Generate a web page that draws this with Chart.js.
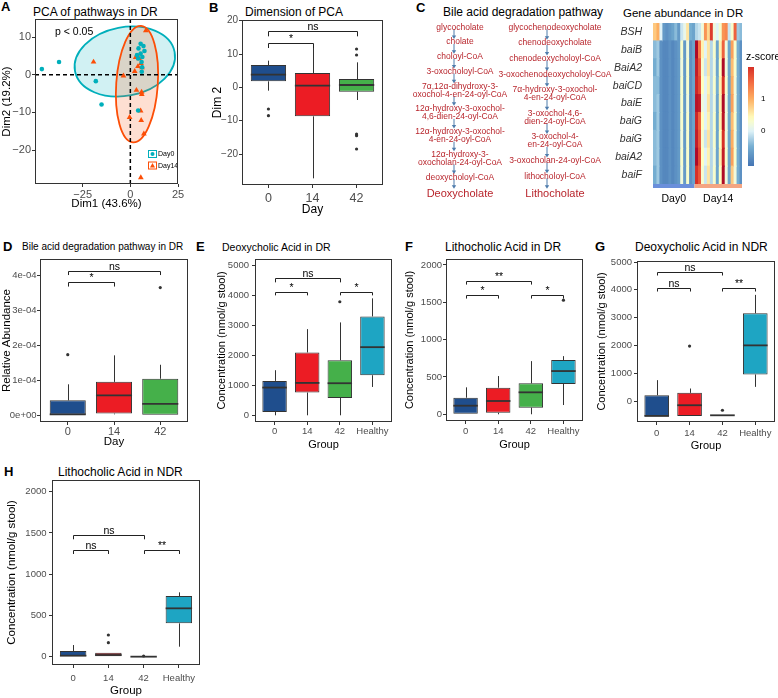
<!DOCTYPE html>
<html>
<head>
<meta charset="utf-8">
<script src="https://cdn.jsdelivr.net/npm/chart.js@4.4.1/dist/chart.umd.min.js"></script>
<style>
  body { margin: 0; background: #fff; }
  #page { position: relative; width: 778px; height: 698px; overflow: hidden; background: #fff;
          font-family: "Liberation Sans", Arial, sans-serif; color: #000; }
  #page canvas, #page svg { position: absolute; }
  .tag { position: absolute; font-weight: bold; font-size: 13px; line-height: 16px; }
  .ttl { position: absolute; font-size: 12px; line-height: 16px; white-space: nowrap; }
</style>
</head>
<body>
<div id="page"></div>
<script>
// ---------------- data ----------------
const dayGroups = ['0', '14', '42'];
const acidGroups = ['0', '14', '42', 'Healthy'];

// A - PCA scores [Dim1, Dim2]
const pcaDay0 = [[-46.4, 1.5], [-37.4, 3.4], [-18.1, -1.7], [-15.1, -7.9], [4.1, -9.5],
  [5.4, 8.2], [6.9, 7.6], [4.3, 7.0], [7.4, 6.3], [5.4, 5.6], [6.3, 4.7], [4.1, 4.3],
  [5.9, 3.4], [6.2, 2.0], [6.0, 0.8], [3.5, 5.2]];
const pcaDay14 = [[-19.3, 3.4], [-3.6, -0.3], [2.3, 0.9], [2.8, 4.6], [8.1, 11.7], [4.6, 4.3],
  [5.6, 3.0], [6.1, 1.9], [4.0, 2.2], [3.2, -4.1], [5.9, -4.6], [6.0, -5.2], [5.4, -9.6],
  [-0.4, -11.3], [5.7, -12.1], [7.1, -15.7], [5.5, -27.3]];
// confidence ellipses: [centre Dim1, centre Dim2, radius Dim1, radius Dim2, tilt deg]
const ellipseDay0 = [-2.9, 3.5, 26.6, 9.1, -11];
const ellipseDay14 = [3.5, -2.5, 10.9, 15.5, 4];
const pcaXTicks = [-25, 0, 25];
const pcaYTicks = [-20, -10, 0, 10];

// boxes: [lower whisker, Q1, median, Q3, upper whisker]; brackets: [from, to, y, tip, label]
// B - Dim 2 by day
const dim2Box = [[-1.0, 1.8, 3.8, 6.7, 8.0], [-27.3, -8.7, 0.5, 4.3, 12.0], [-3.8, -1.3, 0.7, 2.5, 7.5]];
const dim2Out = [[-6.5, -8.5], [], [11.5, 9.7, -14.0, -14.5, -18.5]];
const dim2Sig = [[0, 1, 13.2, 11.8, '*'], [0, 2, 16.8, 15.3, 'ns']];
const dim2Ticks = [-20, -10, 0, 10, 20];

// D - bile acid degradation pathway abundance
const pathBox = [[0, 0, 0.03e-4, 0.43e-4, 0.89e-4], [0.03e-4, 0.05e-4, 0.57e-4, 0.96e-4, 1.72e-4], [0, 0, 0.33e-4, 1.05e-4, 1.45e-4]];
const pathOut = [[1.74e-4], [], [3.66e-4]];
const pathSig = [[0, 1, 3.81e-4, 3.69e-4, '*'], [0, 2, 4.14e-4, 4.02e-4, 'ns']];
const pathTicks = [0, 1e-4, 2e-4, 3e-4, 4e-4];
const pathTickLabels = ['0e+00', '1e-04', '2e-04', '3e-04', '4e-04'];

// E - deoxycholic acid, DR
const dcaDrBox = [[0, 110, 923, 1145, 1500], [0, 757, 1077, 2090, 2867], [0, 577, 1067, 1833, 3090], [943, 1333, 2267, 3290, 3890]];
const dcaDrOut = [[], [], [3778], []];
const dcaDrSig = [[0, 1, 4090, 3990, '*'], [0, 2, 4557, 4423, 'ns'], [2, 3, 4090, 3990, '*']];

// F - lithocholic acid, DR
const lcaDrBox = [[0, 0, 115, 222, 361], [0, 21, 178, 356, 512], [0, 89, 294, 414, 712], [124, 405, 579, 726, 779]];
const lcaDrOut = [[], [], [], [1528]];
const lcaDrSig = [[0, 1, 1595, 1550, '*'], [0, 2, 1782, 1737, '**'], [2, 3, 1595, 1550, '*']];

// G - deoxycholic acid, NDR
const dcaNdrBox = [[-529, -529, -529, 216, 757], [-529, -529, -144, 300, 457], [-505, -505, -505, -505, -505], [516, 962, 2006, 3160, 3820]];
const dcaNdrOut = [[], [1982], [-324], []];
const dcaNdrSig = [[0, 1, 4060, 3940, 'ns'], [0, 2, 4637, 4515, 'ns'], [2, 3, 4060, 3940, '**']];

// H - lithocholic acid, NDR
const lcaNdrBox = [[0, 0, 12, 69, 141], [0, 0, 20, 48, 48], [0, 0, 0, 0, 0], [121, 404, 586, 735, 780]];
const lcaNdrOut = [[], [263, 170], [8], []];
const lcaNdrSig = [[0, 1, 1293, 1245, 'ns'], [0, 2, 1475, 1423, 'ns'], [2, 3, 1293, 1245, '**']];

const dcaTicks = [0, 1000, 2000, 3000, 4000, 5000];
const lcaTicks = [0, 500, 1000, 1500, 2000];

// C - pathways ("|" splits a name over two lines)
const dcaPathway = ['glycocholate', 'cholate', 'choloyl-CoA', '3-oxocholoyl-CoA',
  '7α,12α-dihydroxy-3-|oxochol-4-en-24-oyl-CoA', '12α-hydroxy-3-oxochol-|4,6-dien-24-oyl-CoA',
  '12α-hydroxy-3-oxochol-|4-en-24-oyl-CoA', '12α-hydroxy-3-|oxocholan-24-oyl-CoA',
  'deoxycholoyl-CoA', 'Deoxycholate'];
const lcaPathway = ['glycochenodeoxycholate', 'chenodeoxycholate', 'chenodeoxycholoyl-CoA',
  '3-oxochenodeoxycholoyl-CoA', '7α-hydroxy-3-oxochol-|4-en-24-oyl-CoA', '3-oxochol-4,6-|dien-24-oyl-CoA',
  '3-oxochol-4-|en-24-oyl-CoA', '3-oxocholan-24-oyl-CoA', 'lithocholoyl-CoA', 'Lithocholate'];

// C - gene heatmap (z-scores, 14 Day0 + 16 Day14 samples)
const genes = ['BSH', 'baiB', 'BaiA2', 'baiCD', 'baiE', 'baiG', 'baiG', 'baiA2', 'baiF'];
const sampleGroups = ['Day0', 'Day14'];
const groupSizes = [14, 16];
const heatZ = [
  [0.8, 1.0, 0.0, -0.7, -0.8, -0.7, -0.6, -0.4, -0.7, -0.1, 0.1, 0.6, -0.5, -0.6, -0.2, -0.1, 0.2, 1.2, 0.7, 1.9, 0.2, 0.0, 0.3, 1.2, 1.3, -0.1, 0.3, 1.6, -0.3, -0.4],
  [-0.4, -0.3, -0.8, -0.9, -0.9, -0.8, -0.9, -0.8, -0.7, 0.3, -0.7, 0.2, -0.8, -0.6, 2.4, 1.4, 0.5, 0.0, 0.6, -0.2, 0.3, -0.6, 0.5, 1.6, 0.2, -0.6, 1.1, 0.3, -0.5, -0.8],
  [-0.5, -0.3, -0.8, -0.9, -0.9, -0.8, -0.9, -0.8, -0.7, 0.2, -0.7, 0.3, -0.8, -0.6, 2.2, 1.7, 0.3, -0.1, 0.6, -0.2, 0.2, -0.6, 0.4, 2.4, 0.2, -0.6, 0.9, 0.3, -0.5, -0.8],
  [-0.4, -0.4, -0.8, -0.9, -0.9, -0.8, -0.9, -0.8, -0.7, 0.3, -0.7, 0.3, -0.8, -0.6, 2.1, 1.8, 0.4, 0.0, 0.5, -0.2, 0.3, -0.5, 0.5, 2.0, 0.3, -0.6, 1.0, 0.2, -0.5, -0.8],
  [-0.4, -0.3, -0.8, -0.9, -0.9, -0.8, -0.9, -0.8, -0.7, 0.3, -0.7, 0.2, -0.8, -0.6, 2.3, 2.2, 0.2, 0.0, 0.6, -0.2, 0.2, -0.6, 0.5, 2.4, 0.2, -0.6, 1.1, 0.2, -0.5, -0.8],
  [-0.5, -0.3, -0.8, -0.9, -0.9, -0.8, -0.9, -0.8, -0.7, 0.3, -0.7, 0.3, -0.8, -0.6, 2.1, 1.6, 0.4, 0.0, 0.5, -0.2, 0.3, -0.6, 0.5, 2.3, 0.2, -0.6, 0.9, 0.3, -0.5, -0.8],
  [-0.4, -0.3, -0.8, -0.9, -0.9, -0.8, -0.9, -0.8, -0.7, 0.2, -0.7, 0.3, -0.8, -0.6, 2.2, 1.7, 0.3, -0.1, 0.6, -0.2, 0.3, -0.6, 0.4, 2.0, 0.2, -0.6, 1.0, 0.2, -0.5, -0.8],
  [-0.4, -0.3, -0.8, -0.9, -0.9, -0.8, -0.9, -0.8, -0.7, 0.3, -0.7, 0.3, -0.8, -0.6, 2.4, 1.8, 0.4, 0.0, 0.5, -0.2, 0.2, -0.6, 0.5, 2.2, 0.3, -0.6, 1.1, 0.3, -0.5, -0.8],
  [-0.5, -0.3, -0.8, -0.9, -0.9, -0.8, -0.9, -0.8, -0.7, 0.2, -0.7, 0.3, -0.8, -0.6, 2.0, 1.7, 0.3, -0.1, 0.6, -0.2, 0.3, -0.6, 0.4, 2.4, 0.2, -0.6, 0.8, 0.2, -0.5, -0.8]
];
const zTicks = [0, 1];

// ---------------- styling ----------------
Chart.defaults.font.family = '"Liberation Sans", Arial, sans-serif';
Chart.defaults.color = '#4d4d4d';
const FONT = '"Liberation Sans", Arial, sans-serif';
const groupColors = ['#1f4e8d', '#ec1c24', '#45b04a', '#1ea5c3'];
const teal = '#00AFBB', orange = '#FC4E07';
const zStops = [[-1.1, [69, 117, 180]], [-0.5, [116, 173, 209]], [0, [224, 243, 248]], [0.4, [255, 255, 191]],
  [1.0, [253, 174, 97]], [1.5, [244, 109, 67]], [2.0, [215, 48, 39]], [2.5, [165, 0, 38]]];

function zColor(z) {
  if (z <= zStops[0][0]) return 'rgb(' + zStops[0][1] + ')';
  for (let i = 1; i < zStops.length; i++) {
    if (z <= zStops[i][0]) {
      const [z0, c0] = zStops[i - 1], [z1, c1] = zStops[i];
      const t = (z - z0) / (z1 - z0);
      return 'rgb(' + c0.map((v, k) => Math.round(v + (c1[k] - v) * t)).join(',') + ')';
    }
  }
  return 'rgb(' + zStops[zStops.length - 1][1] + ')';
}

const page = document.getElementById('page');

function addText(cls, text, x, cy, size) {
  const d = document.createElement('div');
  d.className = cls;
  d.textContent = text;
  d.style.left = x + 'px';
  d.style.top = (cy - 8) + 'px';
  if (size) d.style.fontSize = size + 'px';
  page.appendChild(d);
}

function makeCanvas(left, top, w, h) {
  const c = document.createElement('canvas');
  c.width = w; c.height = h;
  c.style.left = left + 'px'; c.style.top = top + 'px';
  c.style.width = w + 'px'; c.style.height = h + 'px';
  page.appendChild(c);
  return c;
}

// full panel border (theme_bw style)
const frame = {
  id: 'frame',
  afterDatasetsDraw(chart) {
    const a = chart.chartArea, ctx = chart.ctx;
    ctx.save();
    ctx.strokeStyle = '#333';
    ctx.lineWidth = 1;
    ctx.strokeRect(Math.round(a.left) + 0.5, Math.round(a.top) + 0.5,
      Math.round(a.right - a.left) - 1, Math.round(a.bottom - a.top) - 1);
    ctx.restore();
  }
};

function axisOpts(o) {
  return {
    type: 'linear', min: o.min, max: o.max, bounds: 'data', offset: false,
    afterBuildTicks: a => { a.ticks = o.ticks.map(v => ({ value: v })); },
    afterFit: s => { if (o.width !== undefined) s.width = o.width; if (o.height !== undefined) s.height = o.height; },
    ticks: { color: '#4d4d4d', font: { size: o.tickSize }, padding: o.pad, autoSkip: false, maxRotation: 0,
      callback: (v, i) => o.labels ? o.labels[i] : String(v) },
    grid: { display: true, drawOnChartArea: false, drawTicks: true, tickLength: 3, tickColor: '#333', offset: false },
    border: { display: false },
    title: { display: true, text: o.title, color: '#000', font: { size: o.titleSize }, padding: 0 }
  };
}

// ---------------- panel titles ----------------
addText('tag', 'A', 1, 7);  addText('ttl', 'PCA of pathways in DR', 33, 12);
addText('tag', 'B', 209, 8); addText('ttl', 'Dimension of PCA', 245, 12);
addText('tag', 'C', 416, 8); addText('ttl', 'Bile acid degradation pathway', 443, 12);
addText('ttl', 'Gene abundance in DR', 623, 13, 11.5);
addText('tag', 'D', 3, 247); addText('ttl', 'Bile acid degradation pathway in DR', 22, 247, 10);
addText('tag', 'E', 196, 247); addText('ttl', 'Deoxycholic Acid in DR', 222, 247, 10.5);
addText('tag', 'F', 405, 247); addText('ttl', 'Lithocholic Acid in DR', 445, 247);
addText('tag', 'G', 595, 247); addText('ttl', 'Deoxycholic Acid in NDR', 635, 247);
addText('tag', 'H', 4, 472); addText('ttl', 'Lithocholic Acid in NDR', 58, 472);

// ---------------- A: PCA ----------------
(function () {
  const plot = [35, 19, 178, 184], yTitleX = 7, xTitleY = 204, ts = 11.5, lh = ts * 1.2;
  const left = Math.round(yTitleX - lh / 2), top = plot[1] - 12, right = plot[2] + 12, bottom = Math.round(xTitleY + lh / 2);
  const cv = makeCanvas(left, top, right - left, bottom - top);

  const pcaLayer = {
    id: 'pcaLayer',
    beforeDatasetsDraw(chart) {
      const { ctx, chartArea: a, scales: { x, y } } = chart;
      const kx = Math.abs(x.getPixelForValue(1) - x.getPixelForValue(0));
      const ky = Math.abs(y.getPixelForValue(1) - y.getPixelForValue(0));
      [[ellipseDay0, teal], [ellipseDay14, orange]].forEach(([e, col]) => {
        ctx.save();
        ctx.beginPath();
        ctx.ellipse(x.getPixelForValue(e[0]), y.getPixelForValue(e[1]), e[2] * kx, e[3] * ky, e[4] * Math.PI / 180, 0, Math.PI * 2);
        ctx.fillStyle = col + '2e';
        ctx.fill();
        ctx.lineWidth = 1.8;
        ctx.strokeStyle = col;
        ctx.stroke();
        ctx.restore();
      });
      ctx.save();
      ctx.strokeStyle = '#000';
      ctx.lineWidth = 1.5;
      ctx.setLineDash([4, 3]);
      ctx.beginPath();
      const x0 = x.getPixelForValue(0), y0 = y.getPixelForValue(0);
      ctx.moveTo(x0, a.top); ctx.lineTo(x0, a.bottom);
      ctx.moveTo(a.left, y0); ctx.lineTo(a.right, y0);
      ctx.stroke();
      ctx.restore();
      ctx.save();
      ctx.fillStyle = '#000';
      ctx.font = '10.5px ' + FONT;
      ctx.textBaseline = 'middle';
      ctx.fillText('p < 0.05', a.left + 20, a.top + 13);
      ctx.restore();
    },
    afterDatasetsDraw(chart) {
      const { ctx, chartArea: a } = chart;
      ctx.save();
      ctx.font = '7px ' + FONT;
      ctx.textBaseline = 'middle';
      chart.data.datasets.forEach((ds, i) => {
        const bx = a.left + 113.5, by = a.top + 131.5 + i * 11.5;
        ctx.fillStyle = '#fff';
        ctx.fillRect(bx, by, 8, 7);
        ctx.strokeStyle = ds.backgroundColor;
        ctx.lineWidth = 1;
        ctx.strokeRect(bx, by, 8, 7);
        ctx.fillStyle = ds.backgroundColor;
        ctx.beginPath();
        if (i === 0) ctx.arc(bx + 4, by + 3.5, 2, 0, Math.PI * 2);
        else { ctx.moveTo(bx + 4, by + 1); ctx.lineTo(bx + 6.5, by + 5.5); ctx.lineTo(bx + 1.5, by + 5.5); ctx.closePath(); }
        ctx.fill();
        ctx.fillStyle = '#000';
        ctx.fillText(ds.label, bx + 9.5, by + 4);
      });
      ctx.restore();
    }
  };

  new Chart(cv, {
    type: 'scatter',
    data: {
      datasets: [
        { label: 'Day0', data: pcaDay0.map(([x, y]) => ({ x, y })), pointStyle: 'circle', pointRadius: 2.3,
          backgroundColor: teal, borderWidth: 0 },
        { label: 'Day14', data: pcaDay14.map(([x, y]) => ({ x, y })), pointStyle: 'triangle', pointRadius: 3.3,
          backgroundColor: orange, borderWidth: 0 }
      ]
    },
    options: {
      responsive: false, animation: false, events: [], devicePixelRatio: 1,
      layout: { padding: { top: 12, right: 12, left: 0, bottom: 0 } },
      plugins: { legend: { display: false }, tooltip: { enabled: false } },
      scales: {
        x: axisOpts({ min: -50, max: 25, ticks: pcaXTicks, labels: ['−25', '0', '25'], tickSize: 11, pad: 1.5,
          title: 'Dim1 (43.6%)', titleSize: ts, height: bottom - plot[3] }),
        y: axisOpts({ min: -29, max: 14.8, ticks: pcaYTicks, labels: ['−20', '−10', '0', '10'], tickSize: 11, pad: 1,
          title: 'Dim2 (19.2%)', titleSize: ts, width: plot[0] - left })
      }
    },
    plugins: [pcaLayer, frame]
  });
})();

// ---------------- box plots ----------------
function boxLayer(p) {
  return {
    id: 'boxLayer',
    beforeDatasetsDraw(chart) {
      const { ctx, scales: { x, y } } = chart;
      ctx.save();
      ctx.strokeStyle = '#333';
      ctx.lineWidth = 1;
      p.box.forEach((b, i) => {
        const px = Math.round(x.getPixelForValue(i)) + 0.5;
        ctx.beginPath();
        ctx.moveTo(px, y.getPixelForValue(b[0])); ctx.lineTo(px, y.getPixelForValue(b[1]));
        ctx.moveTo(px, y.getPixelForValue(b[3])); ctx.lineTo(px, y.getPixelForValue(b[4]));
        ctx.stroke();
      });
      ctx.restore();
    },
    afterDatasetsDraw(chart) {
      const { ctx, scales: { x, y } } = chart;
      const half = (x.getPixelForValue(1) - x.getPixelForValue(0)) * p.boxW / 2;
      ctx.save();
      ctx.strokeStyle = '#333';
      ctx.lineWidth = 1.8;
      p.box.forEach((b, i) => {
        const px = x.getPixelForValue(i), py = y.getPixelForValue(b[2]);
        ctx.beginPath(); ctx.moveTo(px - half, py); ctx.lineTo(px + half, py); ctx.stroke();
      });
      ctx.strokeStyle = '#222';
      ctx.lineWidth = 1;
      ctx.fillStyle = '#000';
      ctx.font = '10.5px ' + FONT;
      ctx.textAlign = 'center';
      ctx.textBaseline = 'alphabetic';
      p.sig.forEach(([a, b, yy, tip, label]) => {
        const x1 = Math.round(x.getPixelForValue(a)) + 0.5, x2 = Math.round(x.getPixelForValue(b)) + 0.5;
        const y1 = Math.round(y.getPixelForValue(yy)) + 0.5, y2 = y.getPixelForValue(tip);
        ctx.beginPath();
        ctx.moveTo(x1, y2); ctx.lineTo(x1, y1); ctx.lineTo(x2, y1); ctx.lineTo(x2, y2);
        ctx.stroke();
        ctx.fillText(label, (x1 + x2) / 2, y1 - 1.5);
      });
      ctx.restore();
    }
  };
}

function boxPanel(p) {
  const lh = p.titleSize * 1.2;
  const left = Math.round(p.yTitleX - lh / 2), top = p.plot[1] - 12;
  const right = p.plot[2] + 22, bottom = Math.round(p.xTitleY + lh / 2);
  const cv = makeCanvas(left, top, right - left, bottom - top);
  const n = p.cats.length;
  new Chart(cv, {
    type: 'bar',
    data: {
      datasets: [
        { type: 'bar', data: p.box.map((b, i) => ({ x: i, y: [b[1], b[3]] })), backgroundColor: groupColors.slice(0, n),
          borderColor: '#333', borderWidth: 1, borderSkipped: false, categoryPercentage: p.boxW, barPercentage: 1, order: 2 },
        { type: 'scatter', data: p.out.flatMap((vals, i) => vals.map(v => ({ x: i, y: v }))), pointRadius: 1.6,
          backgroundColor: '#333', borderWidth: 0, order: 1 }
      ]
    },
    options: {
      responsive: false, animation: false, events: [], devicePixelRatio: 1,
      layout: { padding: { top: 12, right: 22, left: 0, bottom: 0 } },
      plugins: { legend: { display: false }, tooltip: { enabled: false } },
      scales: {
        x: axisOpts({ min: -0.6, max: n - 0.4, ticks: p.cats.map((c, i) => i), labels: p.cats, tickSize: p.xTickSize,
          pad: p.xPad, title: p.xTitle, titleSize: p.titleSize, height: bottom - p.plot[3] }),
        y: axisOpts({ min: p.yMin, max: p.yMax, ticks: p.yTicks, labels: p.yLabels, tickSize: p.yTickSize,
          pad: p.yPad, title: p.yTitle, titleSize: p.titleSize, width: p.plot[0] - left })
      }
    },
    plugins: [boxLayer(p), frame]
  });
}

const conc = 'Concentration (nmol/g stool)';
boxPanel({ plot: [242, 20, 383, 185], yTitleX: 216.7, xTitleY: 210, titleSize: 12, cats: dayGroups,
  box: dim2Box, out: dim2Out, sig: dim2Sig, boxW: 0.8, yMin: -29.3, yMax: 20.2, yTicks: dim2Ticks,
  yLabels: ['−20', '−10', '0', '10', '20'], xTickSize: 12.5, xPad: 3.5, yTickSize: 10, yPad: 1, xTitle: 'Day', yTitle: 'Dim 2' });
boxPanel({ plot: [40, 259, 188, 422], yTitleX: 7, xTitleY: 441.7, titleSize: 11.5, cats: dayGroups,
  box: pathBox, out: pathOut, sig: pathSig, boxW: 0.78, yMin: -0.19e-4, yMax: 4.48e-4, yTicks: pathTicks,
  yLabels: pathTickLabels, xTickSize: 11, xPad: 0, yTickSize: 9.5, yPad: 0.5, xTitle: 'Day', yTitle: 'Relative Abundance' });
boxPanel({ plot: [255, 259, 392, 422], yTitleX: 221.7, xTitleY: 445, titleSize: 11, cats: acidGroups,
  box: dcaDrBox, out: dcaDrOut, sig: dcaDrSig, boxW: 0.75, yMin: -223, yMax: 5200, yTicks: dcaTicks,
  xTickSize: 9.5, xPad: 1, yTickSize: 9.5, yPad: 3, xTitle: 'Group', yTitle: conc });
boxPanel({ plot: [446, 259, 583, 421], yTitleX: 410, xTitleY: 445, titleSize: 11, cats: acidGroups,
  box: lcaDrBox, out: lcaDrOut, sig: lcaDrSig, boxW: 0.75, yMin: -90, yMax: 2080, yTicks: lcaTicks,
  xTickSize: 9.5, xPad: 2, yTickSize: 9.5, yPad: 1, xTitle: 'Group', yTitle: conc });
boxPanel({ plot: [637, 261, 775, 422], yTitleX: 601.7, xTitleY: 446, titleSize: 11, cats: acidGroups,
  box: dcaNdrBox, out: dcaNdrOut, sig: dcaNdrSig, boxW: 0.75, yMin: -746, yMax: 5036, yTicks: dcaTicks,
  xTickSize: 9.5, xPad: 2.3, yTickSize: 9.5, yPad: 2, xTitle: 'Group', yTitle: conc });
boxPanel({ plot: [52, 480, 200, 665], yTitleX: 11.7, xTitleY: 690.7, titleSize: 11.5, cats: acidGroups,
  box: lcaNdrBox, out: lcaNdrOut, sig: lcaNdrSig, boxW: 0.75, yMin: -101, yMax: 2142, yTicks: lcaTicks,
  xTickSize: 9.5, xPad: 4.3, yTickSize: 9.5, yPad: 2.5, xTitle: 'Group', yTitle: conc });

// ---------------- C: pathway diagram ----------------
(function () {
  const NS = 'http://www.w3.org/2000/svg';
  const svg = document.createElementNS(NS, 'svg');
  svg.setAttribute('width', 778); svg.setAttribute('height', 210);
  svg.style.left = '0px'; svg.style.top = '0px';
  page.appendChild(svg);
  const firstY = 26.7, lastY = 193.3;

  function column(items, textX, arrowX) {
    const hs = items.map((t, i) => i === items.length - 1 ? 12 : t.split('|').length * 8);
    const inner = hs.reduce((s, h) => s + h, 0) - hs[0] / 2 - hs[hs.length - 1] / 2;
    const gap = (lastY - firstY - inner) / (items.length - 1);
    const cy = [];
    let y = firstY;
    items.forEach((t, i) => { if (i > 0) y += hs[i - 1] / 2 + gap + hs[i] / 2; cy.push(y); });
    for (let i = 0; i < items.length - 1; i++) {
      const y1 = cy[i] + hs[i] / 2 - 1.5, y2 = cy[i + 1] - hs[i + 1] / 2 + 1.5;
      const ln = document.createElementNS(NS, 'line');
      ln.setAttribute('x1', arrowX); ln.setAttribute('x2', arrowX);
      ln.setAttribute('y1', y1); ln.setAttribute('y2', y2 - 2.5);
      ln.setAttribute('stroke', '#4f7cac'); ln.setAttribute('stroke-width', 1);
      svg.appendChild(ln);
      const hd = document.createElementNS(NS, 'path');
      hd.setAttribute('d', `M${arrowX - 2.2},${y2 - 3.5} L${arrowX + 2.2},${y2 - 3.5} L${arrowX},${y2} Z`);
      hd.setAttribute('fill', '#4f7cac');
      svg.appendChild(hd);
    }
    items.forEach((t, i) => {
      const big = i === items.length - 1;
      const lines = t.split('|');
      lines.forEach((s, k) => {
        const tx = document.createElementNS(NS, 'text');
        const ly = cy[i] + (k - (lines.length - 1) / 2) * 8;
        tx.setAttribute('x', textX);
        tx.setAttribute('y', ly + (big ? 4 : 3));
        tx.setAttribute('text-anchor', 'middle');
        tx.setAttribute('font-family', 'Liberation Sans, Arial, sans-serif');
        tx.setAttribute('font-size', big ? 11 : 8.5);
        tx.setAttribute('fill', '#b8252c');
        tx.textContent = s;
        svg.appendChild(tx);
      });
    });
  }
  column(dcaPathway, 460, 454);
  column(lcaPathway, 555, 547);
})();

// ---------------- C: gene heatmap ----------------
(function () {
  const nCols = groupSizes.reduce((a, b) => a + b, 0);
  const cv = makeCanvas(600, 11, 178, 195);
  const heatLayer = {
    id: 'heatLayer',
    afterDatasetsDraw(chart) {
      const { ctx, chartArea: a, scales: { x } } = chart;
      ctx.save();
      // sample group annotation bar
      const annCol = ['#6a8fdb', '#f4a582'];
      let start = 0;
      ctx.font = '10.5px ' + FONT;
      ctx.textAlign = 'center';
      ctx.textBaseline = 'middle';
      groupSizes.forEach((n, g) => {
        const x1 = x.getPixelForValue(start), x2 = x.getPixelForValue(start + n);
        ctx.fillStyle = annCol[g];
        ctx.fillRect(x1, a.bottom, x2 - x1, 4);
        ctx.fillStyle = '#000';
        ctx.fillText(sampleGroups[g], (x1 + x2) / 2, a.bottom + 15);
        start += n;
      });
      // z-score colour bar
      const zTop = 2.0, zBot = -1.1, bx = a.right + 6, bw = 6, by = a.top + 44, bh = 99;
      const grad = ctx.createLinearGradient(0, by, 0, by + bh);
      for (let k = 0; k <= 20; k++) {
        const z = zTop - (zTop - zBot) * k / 20;
        grad.addColorStop(k / 20, zColor(z));
      }
      ctx.fillStyle = grad;
      ctx.fillRect(bx, by, bw, bh);
      ctx.fillStyle = '#000';
      ctx.textAlign = 'left';
      ctx.font = '8px ' + FONT;
      zTicks.forEach(z => {
        const py = by + (zTop - z) / (zTop - zBot) * bh;
        ctx.fillText(String(z), bx + bw + 7, py);
      });
      ctx.font = '10.5px ' + FONT;
      ctx.fillText('z-score', bx - 2, a.top + 34);
      ctx.restore();
    }
  };
  const datasets = [];
  for (let c = 0; c < nCols; c++) {
    datasets.push({
      data: genes.map(() => [c, c + 1]),
      backgroundColor: genes.map((g, r) => zColor(heatZ[r][c])),
      borderWidth: 0, barPercentage: 1, categoryPercentage: 1, grouped: false, inflateAmount: 0.5
    });
  }
  new Chart(cv, {
    type: 'bar',
    data: { labels: genes, datasets },
    options: {
      indexAxis: 'y',
      responsive: false, animation: false, events: [], devicePixelRatio: 1,
      layout: { padding: { top: 12, right: 36, left: 0, bottom: 22 } },
      plugins: { legend: { display: false }, tooltip: { enabled: false } },
      scales: {
        x: { type: 'linear', min: 0, max: nCols, display: false },
        y: { type: 'category', afterFit: s => { s.width = 53; },
          ticks: { color: '#333', font: { size: 10.5, style: 'italic' }, padding: 3, autoSkip: false },
          grid: { display: false }, border: { display: false } }
      }
    },
    plugins: [heatLayer]
  });
})();
</script>
</body>
</html>
